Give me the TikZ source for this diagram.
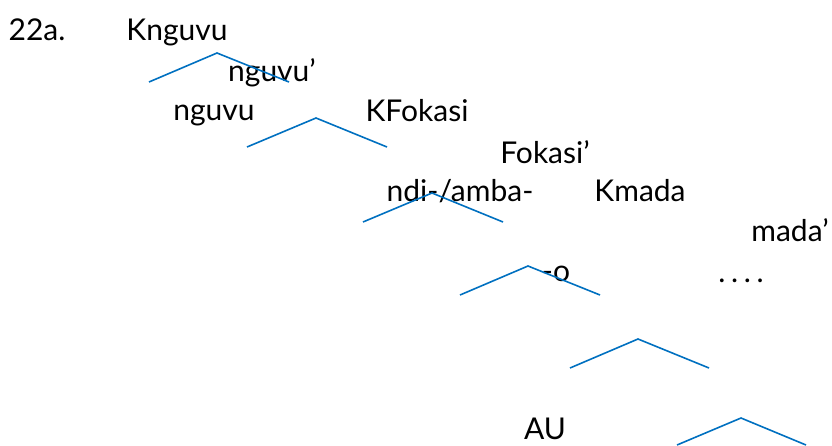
\documentclass[tikz,border=0pt]{standalone}
\usepackage{fontspec}
\setmainfont{Lato}
\definecolor{branchblue}{RGB}{0,112,192}

\begin{document}
\begin{tikzpicture}[x=1pt,y=-1pt,
        every node/.style={anchor=base,inner sep=0pt,font=\fontsize{30}{36}\selectfont}]

            %\draw [help lines] (0,0) grid (832,445);
            \useasboundingbox (0,0) rectangle (832,445);

            \path   (37,40)  node (num)    {22a.}
                    (177,40) node (kng)    {Knguvu}
                    (272,81) node (ngp)    {nguvu'}
                    (214,120) node (ng)    {nguvu}
                    (417,121) node (kfo)   {KFokasi}
                    (545,163) node (fop)   {Fokasi'}
                    (460,201) node (ndi)   {ndi-/amba-}
                    (640,201) node (kma)   {Kmada}
                    (790,241) node (map)   {mada'}
                    (556,281) node (o)     {-o}
                    (741,282) node (dots)  {\addfontfeature{LetterSpace=19}....}
                    (545,439) node (au)    {AU};

            \path   (149,82) coordinate (l1) (217,53) coordinate (t1) (289,82) coordinate (r1)
                    (247,147) coordinate (l2) (316,118) coordinate (t2) (387,147) coordinate (r2)
                    (363,222) coordinate (l3) (432,193) coordinate (t3) (503,222) coordinate (r3)
                    (460,295) coordinate (l4) (528,266) coordinate (t4) (600,295) coordinate (r4)
                    (570,368) coordinate (l5) (638,339) coordinate (t5) (709,368) coordinate (r5)
                    (677,445) coordinate (l6) (741,418) coordinate (t6) (806,445) coordinate (r6);

            \foreach \i in {1,...,6}
                \draw[line width=1.6pt,branchblue] (node cs: name =l\i) -- (node cs: name =t\i) -- (node cs: name =r\i);
        \end{tikzpicture}
\end{document}
